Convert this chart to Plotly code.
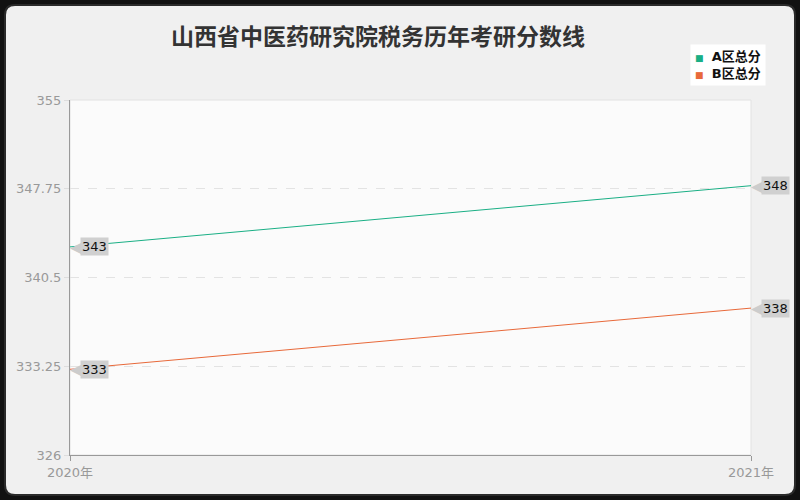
import plotly.graph_objects as go

years = ["2020年", "2021年"]
series_names = ["A区总分", "B区总分"]
a_scores = [343, 348]
b_scores = [333, 338]
colors = ["#1aaf85", "#e8693a"]
y_ticks = [326, 333.25, 340.5, 347.75, 355]
title_text = "山西省中医药研究院税务历年考研分数线"

W, H = 800, 500
L, R, T, B = 70, 49, 100, 45
pw, ph = W - L - R, H - T - B

def px(x):
    return (x - L) / pw

def py(y):
    return (H - B - y) / ph

FONT = "DejaVu Sans, Noto Sans CJK SC, sans-serif"

fig = go.Figure()
for name, vals, col in zip(series_names, [a_scores, b_scores], colors):
    fig.add_trace(go.Scatter(x=years, y=vals, mode="lines", line=dict(color=col, width=1),
                             name=name, showlegend=False, hoverinfo="skip"))
    for xv, yv in zip(years, vals):
        fig.add_annotation(x=xv, y=yv, text="◀", showarrow=False, xanchor="left",
                           xshift=-2, font=dict(size=17, color="#cccccc", family=FONT))
        fig.add_annotation(x=xv, y=yv, text=str(yv), showarrow=False, xanchor="left",
                           xshift=10, bgcolor="#d0d0d0", borderpad=1,
                           font=dict(size=13, color="#111", family=FONT))

# legend drawn as an annotation box
legend_lines = [f"<span style='color:{c};font-size:9px'>■</span>  <b>{n}</b>"
                for n, c in zip(series_names, colors)]
fig.add_annotation(x=px(690), y=py(44), xref="paper", yref="paper", xanchor="left",
                   yanchor="top", showarrow=False, align="left",
                   text="<br>".join(legend_lines), bgcolor="#ffffff", borderpad=4,
                   font=dict(size=13, color="#111", family=FONT))

# rounded background frame
x0, x1, y0, y1, r = 5, 795, 5, 495, 10
pts = (f"M {px(x0+r)},{py(y0)} L {px(x1-r)},{py(y0)} "
       f"Q {px(x1)},{py(y0)} {px(x1)},{py(y0+r)} L {px(x1)},{py(y1-r)} "
       f"Q {px(x1)},{py(y1)} {px(x1-r)},{py(y1)} L {px(x0+r)},{py(y1)} "
       f"Q {px(x0)},{py(y1)} {px(x0)},{py(y1-r)} L {px(x0)},{py(y0+r)} "
       f"Q {px(x0)},{py(y0)} {px(x0+r)},{py(y0)} Z")
fig.add_shape(type="path", path=pts, xref="paper", yref="paper", layer="below",
              fillcolor="#f0f0f0", line=dict(color="#2a2a2a", width=2))
# plot area background
fig.add_shape(type="rect", x0=0, x1=1, y0=0, y1=1, xref="paper", yref="paper",
              layer="below", fillcolor="#fbfbfb", line=dict(color="#e2e2e2", width=1))

fig.update_layout(
    width=W, height=H,
    margin=dict(l=L, r=R, t=T, b=B),
    paper_bgcolor="#111111",
    plot_bgcolor="#fbfbfb",
    showlegend=False,
    font=dict(family=FONT, color="#999"),
    title=dict(text=title_text, x=378 / W, xanchor="center", xref="container",
               y=1 - 37 / H, yanchor="middle", yref="container",
               font=dict(size=23, color="#333", family=FONT, weight="bold")),
    xaxis=dict(type="category", range=[0, 1], showgrid=False, showline=True,
               linecolor="#999", linewidth=1, ticks="outside", ticklen=5,
               tickcolor="#999", tickfont=dict(size=13, color="#999"),
               zeroline=False, fixedrange=True),
    yaxis=dict(range=[326, 355], tickvals=y_ticks, ticktext=[f"{v:g}" for v in y_ticks],
               showgrid=True, gridcolor="#e3e3e3", griddash="dash", gridwidth=1,
               showline=True, linecolor="#999", linewidth=1, ticks="outside",
               ticklen=5, tickcolor="#ddd", tickfont=dict(size=13, color="#999"),
               zeroline=False),
)

fig.write_html("out.html", config={"displayModeBar": False},
               post_script="document.body.style.margin='0';")
